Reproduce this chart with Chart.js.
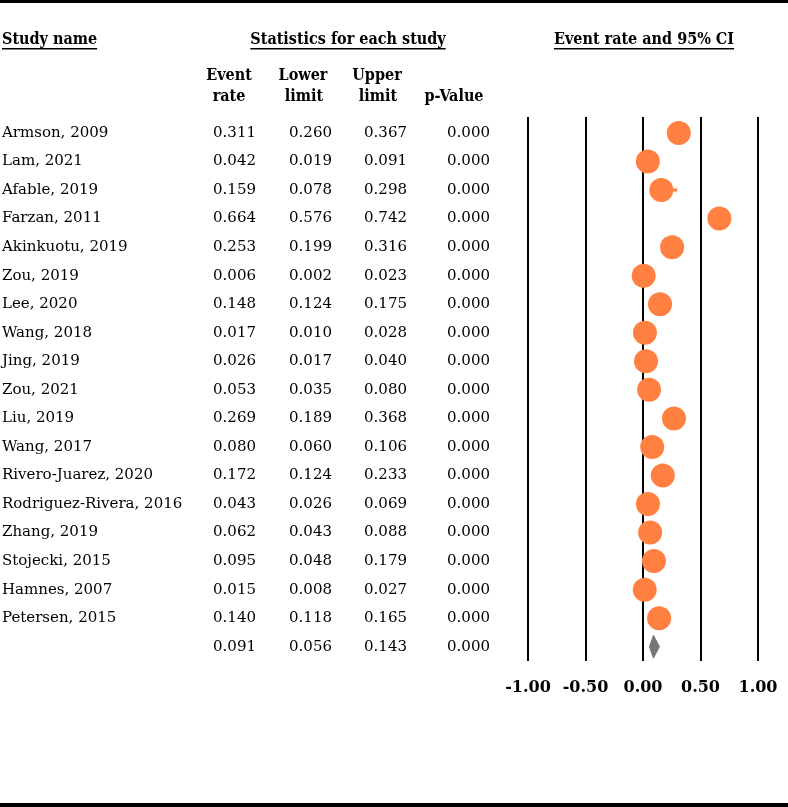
<!DOCTYPE html>
<html>
<head>
<meta charset="utf-8">
<script src="https://cdn.jsdelivr.net/npm/chart.js@4.4.0/dist/chart.umd.min.js"></script>
<style>
  html, body { margin: 0; padding: 0; background: #fff; }
  #wrap { width: 788px; height: 807px; position: relative; }
</style>
</head>
<body>
<div id="wrap"><canvas id="forest" width="788" height="807"></canvas></div>
<script>
// study data
const studies = ['Armson, 2009', 'Lam, 2021', 'Afable, 2019', 'Farzan, 2011', 'Akinkuotu, 2019',
  'Zou, 2019', 'Lee, 2020', 'Wang, 2018', 'Jing, 2019', 'Zou, 2021', 'Liu, 2019', 'Wang, 2017',
  'Rivero-Juarez, 2020', 'Rodriguez-Rivera, 2016', 'Zhang, 2019', 'Stojecki, 2015', 'Hamnes, 2007',
  'Petersen, 2015'];
const eventRate = [0.311, 0.042, 0.159, 0.664, 0.253, 0.006, 0.148, 0.017, 0.026, 0.053, 0.269, 0.080,
  0.172, 0.043, 0.062, 0.095, 0.015, 0.140];
const lowerLimit = [0.260, 0.019, 0.078, 0.576, 0.199, 0.002, 0.124, 0.010, 0.017, 0.035, 0.189, 0.060,
  0.124, 0.026, 0.043, 0.048, 0.008, 0.118];
const upperLimit = [0.367, 0.091, 0.298, 0.742, 0.316, 0.023, 0.175, 0.028, 0.040, 0.080, 0.368, 0.106,
  0.233, 0.069, 0.088, 0.179, 0.027, 0.165];
const pValue = [0, 0, 0, 0, 0, 0, 0, 0, 0, 0, 0, 0, 0, 0, 0, 0, 0, 0];
// pooled: rate, lower, upper, p
const summaryStats = [0.091, 0.056, 0.143, 0.000];
const xTicks = [-1, -0.5, 0, 0.5, 1];
const xTickLabels = ['-1.00', '-0.50', '0.00', '0.50', '1.00'];

const ORANGE = '#FF8040';
const GREY = '#777777';
const summaryRow = studies.length;

// CI segments, broken by null points
const ciData = [];
studies.forEach((s, i) => {
  ciData.push({ x: lowerLimit[i], y: i }, { x: upperLimit[i], y: i }, { x: null, y: null });
});
const pointData = eventRate.map((v, i) => ({ x: v, y: i }));
const diamond = [
  { x: summaryStats[1], y: summaryRow },
  { x: summaryStats[0], y: summaryRow - 0.4 },
  { x: summaryStats[2], y: summaryRow },
  { x: summaryStats[0], y: summaryRow + 0.4 },
  { x: summaryStats[1], y: summaryRow }
];

const HEAD_FONT = 'bold condensed 16px "DejaVu Serif", serif';
const BODY_FONT = '15px "DejaVu Serif", serif';

function underlined(ctx, text, x, y, align) {
  ctx.textAlign = align;
  ctx.fillText(text, x, y);
  const w = ctx.measureText(text).width;
  const x0 = align === 'center' ? x - w / 2 : x;
  ctx.fillRect(x0, y + 8, w, 1.5);
}

const tablePlugin = {
  id: 'table',
  afterDraw(chart) {
    const ctx = chart.ctx;
    const yScale = chart.scales.y;
    ctx.save();
    // frame lines top and bottom
    ctx.fillStyle = '#000';
    ctx.fillRect(0, 0, 788, 3);
    ctx.fillRect(0, 803, 788, 4);

    ctx.font = HEAD_FONT;
    ctx.textBaseline = 'middle';
    underlined(ctx, 'Study name', 2, 40, 'left');
    underlined(ctx, 'Statistics for each study', 348, 40, 'center');
    underlined(ctx, 'Event rate and 95% CI', 644, 40, 'center');

    ctx.textAlign = 'center';
    ctx.fillText('Event', 229, 76);
    ctx.fillText('rate', 229, 97);
    ctx.fillText('Lower', 303, 76);
    ctx.fillText('limit', 304, 97);
    ctx.fillText('Upper', 377, 76);
    ctx.fillText('limit', 378, 97);
    ctx.fillText('p-Value', 454, 97);

    ctx.font = BODY_FONT;
    const cols = [256, 332, 407, 490];
    const row = (name, vals, y) => {
      ctx.textAlign = 'left';
      ctx.fillText(name, 2, y);
      ctx.textAlign = 'right';
      vals.forEach((v, k) => ctx.fillText(v.toFixed(3), cols[k], y));
    };
    studies.forEach((s, i) => {
      row(s, [eventRate[i], lowerLimit[i], upperLimit[i], pValue[i]], yScale.getPixelForValue(i));
    });
    row('', summaryStats, yScale.getPixelForValue(summaryRow));
    ctx.restore();
  }
};

new Chart(document.getElementById('forest'), {
  type: 'scatter',
  data: {
    datasets: [
      {
        type: 'line',
        data: ciData,
        borderColor: ORANGE,
        borderWidth: 3,
        pointRadius: 0,
        spanGaps: false
      },
      {
        data: pointData,
        backgroundColor: ORANGE,
        borderWidth: 0,
        pointRadius: 12,
        pointHoverRadius: 12
      },
      {
        type: 'line',
        data: diamond,
        borderColor: GREY,
        backgroundColor: GREY,
        borderWidth: 1,
        pointRadius: 0,
        fill: 'shape'
      }
    ]
  },
  options: {
    responsive: false,
    animation: false,
    layout: { padding: { left: 528, right: 30, top: 117, bottom: 106 } },
    plugins: { legend: { display: false }, tooltip: { enabled: false } },
    scales: {
      x: {
        type: 'linear',
        min: -1,
        max: 1,
        afterBuildTicks: (scale) => { scale.ticks = xTicks.map(v => ({ value: v })); },
        afterFit: (scale) => {
          scale.height = 40;
          scale.paddingLeft = 0;
          scale.paddingRight = 0;
        },
        grid: { color: '#000', lineWidth: 2, drawTicks: false },
        border: { display: false },
        ticks: {
          padding: 17,
          color: '#000',
          font: { family: '"DejaVu Serif", serif', weight: 'bold', size: 16 },
          callback: (v, i) => xTickLabels[i]
        }
      },
      y: {
        type: 'linear',
        min: -0.56,
        max: 18.5,
        reverse: true,
        display: false
      }
    }
  },
  plugins: [tablePlugin]
});
</script>
</body>
</html>
